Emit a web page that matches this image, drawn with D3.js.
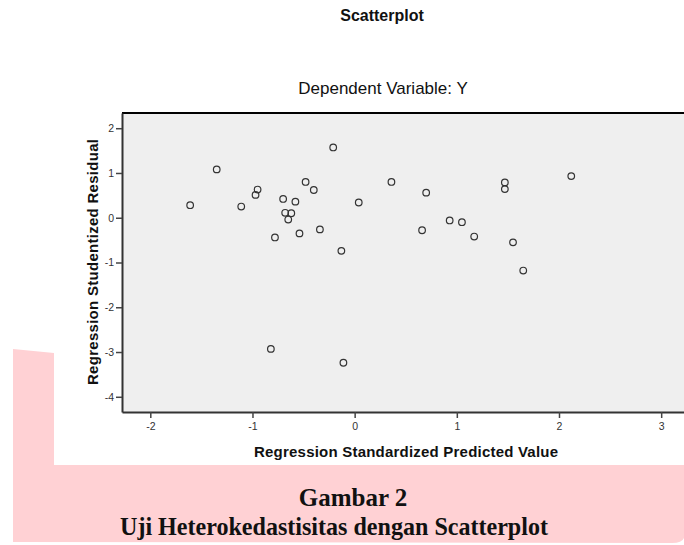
<!DOCTYPE html>
<html>
<head>
<meta charset="utf-8">
<style>
    body { margin: 0; background: #fff; }
    svg { display: block; }
</style>
</head>
<body>
<svg width="684" height="545"></svg>
<script src="https://cdnjs.cloudflare.com/ajax/libs/d3/7.8.5/d3.min.js"></script>
<script>
    // Regression standardized predicted value (x) / studentized residual (y)
    const predicted = [-1.61, -1.35, -1.11, -0.95, -0.97, -0.70, -0.58, -0.48, -0.40, -0.21,
        0.04, -0.68, -0.62, -0.65, -0.78, -0.54, -0.34, -0.13, 0.36, 0.70,
        0.66, 0.93, 1.05, 1.17, 1.47, 1.47, 2.12, 1.55, 1.65, -0.82, -0.11];
    const residual = [0.28, 1.08, 0.25, 0.63, 0.51, 0.42, 0.36, 0.80, 0.62, 1.57,
        0.34, 0.11, 0.10, -0.04, -0.44, -0.35, -0.26, -0.74, 0.80, 0.56,
        -0.28, -0.06, -0.10, -0.42, 0.79, 0.64, 0.93, -0.55, -1.18, -2.93, -3.24];
    const xTicks = [-2, -1, 0, 1, 2, 3];
    const yTicks = [2, 1, 0, -1, -2, -3, -4];

    const sans = 'Arial, "Liberation Sans", sans-serif';
    const serif = '"Times New Roman", "Liberation Serif", serif';

    const svg = d3.select('svg');

    const plot = {left: 122, top: 113, right: 700, bottom: 412};
    const x = d3.scaleLinear().domain([-2.277, 3.38]).range([plot.left, plot.right]);
    const y = d3.scaleLinear().domain([-4.34, 2.34]).range([plot.bottom, plot.top]);

    // pink page decoration behind the caption
    svg.append('path')
        .attr('d', 'M13,349 L54,353 L54,465 L684,465 L684,538 Q682,543 672,543 L13,542 Z')
        .attr('fill', '#ffd1d4');

    // titles
    svg.append('text')
        .attr('x', 382).attr('y', 21)
        .attr('text-anchor', 'middle')
        .attr('font-family', sans).attr('font-size', 16).attr('font-weight', 'bold')
        .attr('fill', '#111')
        .text('Scatterplot');

    svg.append('text')
        .attr('x', 383).attr('y', 94)
        .attr('text-anchor', 'middle')
        .attr('font-family', sans).attr('font-size', 17)
        .attr('fill', '#111')
        .text('Dependent Variable: Y');

    // plot area
    svg.append('rect')
        .attr('x', plot.left).attr('y', plot.top)
        .attr('width', plot.right - plot.left).attr('height', plot.bottom - plot.top)
        .attr('fill', '#efefef');

    svg.append('line')
        .attr('x1', plot.left).attr('x2', plot.right)
        .attr('y1', plot.top).attr('y2', plot.top)
        .attr('stroke', '#000').attr('stroke-width', 2);

    const fmt = d => String(d);

    const xAxis = svg.append('g')
        .attr('transform', `translate(0,${plot.bottom})`)
        .call(d3.axisBottom(x).tickValues(xTicks).tickFormat(fmt)
            .tickSize(6).tickPadding(5).tickSizeOuter(0));

    const yAxis = svg.append('g')
        .attr('transform', `translate(${plot.left},0)`)
        .call(d3.axisLeft(y).tickValues(yTicks).tickFormat(fmt)
            .tickSize(6).tickPadding(2).tickSizeOuter(0));

    [xAxis, yAxis].forEach(g => {
        g.select('.domain').attr('stroke', '#333').attr('stroke-width', 2);
        g.selectAll('.tick line').attr('stroke', '#444').attr('stroke-width', 1.5);
        g.selectAll('.tick text')
            .attr('font-family', sans).attr('font-size', 10.5).attr('fill', '#333');
    });

    // points
    svg.append('g')
        .selectAll('circle')
        .data(predicted)
        .enter()
        .append('circle')
        .attr('cx', d => x(d))
        .attr('cy', (d, i) => y(residual[i]))
        .attr('r', 3.3)
        .attr('fill', 'none')
        .attr('stroke', '#333')
        .attr('stroke-width', 1.2);

    // axis titles
    svg.append('text')
        .attr('x', 406).attr('y', 457)
        .attr('text-anchor', 'middle')
        .attr('font-family', sans).attr('font-size', 15).attr('font-weight', 'bold')
        .attr('fill', '#111')
        .attr('textLength', 304)
        .text('Regression Standardized Predicted Value');

    svg.append('text')
        .attr('transform', 'translate(97.5,262) rotate(-90)')
        .attr('text-anchor', 'middle')
        .attr('font-family', sans).attr('font-size', 15).attr('font-weight', 'bold')
        .attr('fill', '#111')
        .attr('textLength', 246)
        .text('Regression Studentized Residual');

    // caption
    svg.append('text')
        .attr('x', 353).attr('y', 506)
        .attr('text-anchor', 'middle')
        .attr('font-family', serif).attr('font-size', 25).attr('font-weight', 'bold')
        .attr('fill', '#111')
        .text('Gambar 2');

    svg.append('text')
        .attr('x', 334).attr('y', 535)
        .attr('text-anchor', 'middle')
        .attr('font-family', serif).attr('font-size', 25).attr('font-weight', 'bold')
        .attr('fill', '#111')
        .attr('textLength', 428)
        .attr('lengthAdjust', 'spacingAndGlyphs')
        .text('Uji Heterokedastisitas dengan Scatterplot');
</script>
</body>
</html>
